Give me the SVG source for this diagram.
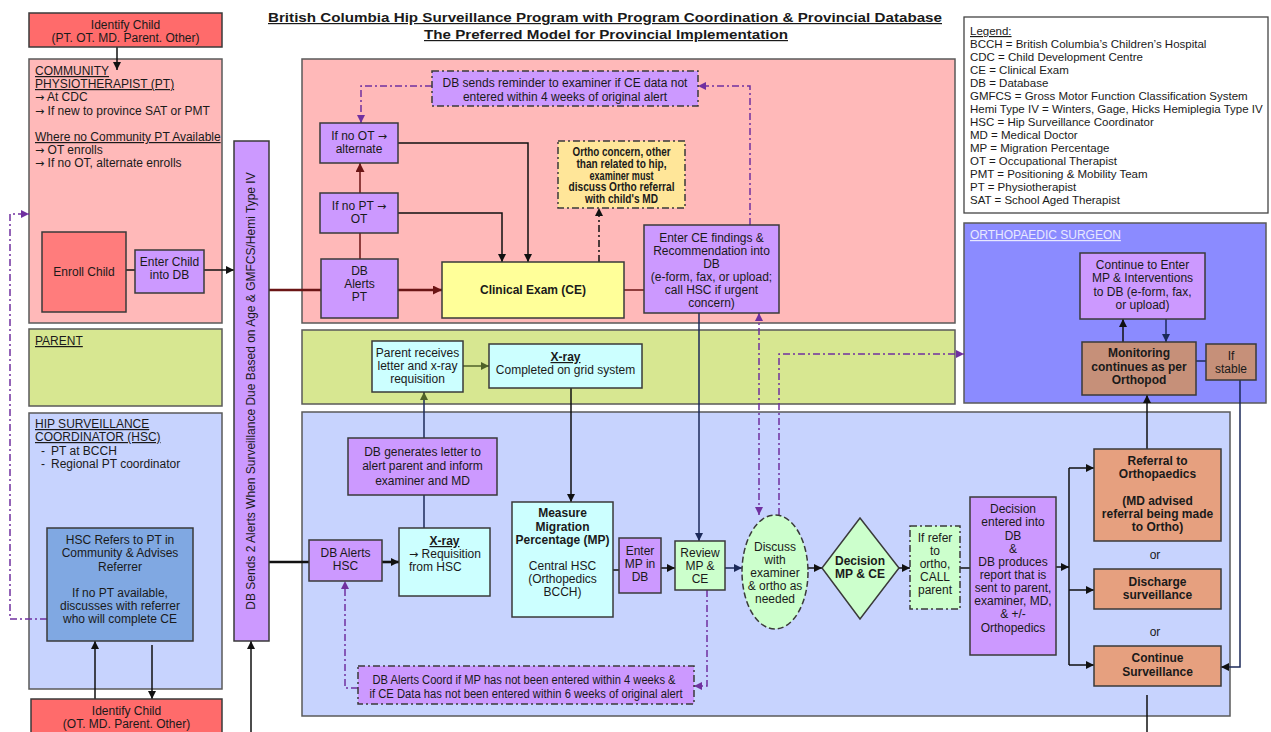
<svg xmlns="http://www.w3.org/2000/svg" width="1271" height="732" viewBox="0 0 1271 732">
<style>
.t{font-family:"Liberation Sans",Arial,sans-serif;font-size:12px;fill:#1a1a1a;text-anchor:middle}
.s{font-size:11.5px}
.b{font-weight:bold}
.l{text-anchor:start}
.u{text-decoration:underline}
.ar{font-family:"DejaVu Sans",sans-serif;font-size:11px}
.box{stroke:#3a3a3a;stroke-width:1.5}
.pane{stroke:#5a5a5a;stroke-width:1.5}
.dd{stroke-dasharray:7,3,2,3}
.ln{fill:none;stroke:#111;stroke-width:1.5}
.red{stroke:#6b1515}
.navy{stroke:#1c2a5a}
.pur{stroke:#7030a0}
.olv{stroke:#4f6228}
.thick{stroke-width:2.6}
</style>
<defs>
<marker id="ak" viewBox="0 0 10 10" refX="10" refY="5" markerWidth="9" markerHeight="8" markerUnits="userSpaceOnUse" orient="auto-start-reverse"><path d="M0,0L10,5L0,10z" fill="#111"/></marker>
<marker id="ar" viewBox="0 0 10 10" refX="10" refY="5" markerWidth="10" markerHeight="9" markerUnits="userSpaceOnUse" orient="auto"><path d="M0,0L10,5L0,10z" fill="#6b1515"/></marker>
<marker id="an" viewBox="0 0 10 10" refX="10" refY="5" markerWidth="9" markerHeight="8" markerUnits="userSpaceOnUse" orient="auto"><path d="M0,0L10,5L0,10z" fill="#1c2a5a"/></marker>
<marker id="ap" viewBox="0 0 10 10" refX="10" refY="5" markerWidth="9" markerHeight="8" markerUnits="userSpaceOnUse" orient="auto-start-reverse"><path d="M0,0L10,5L0,10z" fill="#7030a0"/></marker>
<marker id="ao" viewBox="0 0 10 10" refX="10" refY="5" markerWidth="9" markerHeight="8" markerUnits="userSpaceOnUse" orient="auto"><path d="M0,0L10,5L0,10z" fill="#4f6228"/></marker>
</defs>
<rect width="1271" height="732" fill="#fff"/>

<g id="title">
<text class="t b u" x="605" y="22" font-size="14" textLength="674" lengthAdjust="spacingAndGlyphs">British Columbia Hip Surveillance Program with Program Coordination &amp; Provincial Database</text>
<text class="t b u" x="606" y="39" font-size="14" textLength="364" lengthAdjust="spacingAndGlyphs">The Preferred Model for Provincial Implementation</text>
</g>

<g id="panes">
<rect id="pane-community-pt" class="pane" x="29" y="59" width="193" height="264" fill="#ffb9b9"/>
<text class="t l u" x="35" y="75">COMMUNITY</text>
<text class="t l u" x="35" y="88">PHYSIOTHERAPIST (PT)</text>
<text class="t l" x="35" y="101"><tspan class="ar">→</tspan> At CDC</text>
<text class="t l" x="35" y="115"><tspan class="ar">→</tspan> If new to province SAT or PMT</text>
<text class="t l u" x="35" y="141">Where no Community PT Available</text>
<text class="t l" x="35" y="154"><tspan class="ar">→</tspan> OT enrolls</text>
<text class="t l" x="35" y="167"><tspan class="ar">→</tspan> If no OT, alternate enrolls</text>

<rect id="pane-parent" class="pane" x="29" y="329" width="193" height="77" fill="#d7e791"/>
<text class="t l u" x="35" y="345">PARENT</text>

<rect id="pane-hsc" class="pane" x="29" y="413" width="193" height="276" fill="#c7d3fe"/>
<text class="t l u" x="35" y="428">HIP SURVEILLANCE</text>
<text class="t l u" x="35" y="441">COORDINATOR (HSC)</text>
<text class="t l" x="41" y="455">-</text><text class="t l" x="51" y="455">PT at BCCH</text>
<text class="t l" x="41" y="468">-</text><text class="t l" x="51" y="468">Regional PT coordinator</text>

<rect id="pane-ce" class="pane" x="302" y="59" width="653" height="264" fill="#ffb9b9"/>
<rect id="pane-parent-main" class="pane" x="302" y="330" width="653" height="74" fill="#d7e791"/>
<rect id="pane-hsc-main" class="pane" x="302" y="412" width="928" height="304" fill="#c7d3fe"/>
<rect id="pane-ortho" class="pane" x="964" y="223" width="302" height="180" fill="#8b8bff"/>
<text class="t l u" x="970" y="239" style="fill:#e8e8ff">ORTHOPAEDIC SURGEON</text>
</g>

<g id="legend">
<rect x="964" y="17" width="304" height="196" fill="#fff" stroke="#444" stroke-width="1.3"/>
<text class="t s l u" x="970" y="35">Legend:</text>
<text class="t s l" x="970" y="48">BCCH = British Columbia’s Children’s Hospital</text>
<text class="t s l" x="970" y="61">CDC = Child Development Centre</text>
<text class="t s l" x="970" y="74">CE = Clinical Exam</text>
<text class="t s l" x="970" y="87">DB = Database</text>
<text class="t s l" x="970" y="100">GMFCS = Gross Motor Function Classification System</text>
<text class="t s l" x="970" y="113">Hemi Type IV = Winters, Gage, Hicks Hemiplegia Type IV</text>
<text class="t s l" x="970" y="126">HSC = Hip Surveillance Coordinator</text>
<text class="t s l" x="970" y="139">MD = Medical Doctor</text>
<text class="t s l" x="970" y="152">MP = Migration Percentage</text>
<text class="t s l" x="970" y="165">OT = Occupational Therapist</text>
<text class="t s l" x="970" y="178">PMT = Positioning &amp; Mobility Team</text>
<text class="t s l" x="970" y="191">PT = Physiotherapist</text>
<text class="t s l" x="970" y="204">SAT = School Aged Therapist</text>
</g>

<g id="connectors">
<path class="ln" d="M117,47V70" marker-end="url(#ak)"/>
<path class="ln" d="M126,270H135"/>
<path class="ln" d="M204,270H234" marker-end="url(#ak)"/>
<path class="ln red thick" d="M269,290H321"/>
<path class="ln red thick" d="M398,290H442" marker-end="url(#ar)"/>
<path class="ln red" d="M360,259V233"/>
<path class="ln red" d="M360,193V163" marker-end="url(#ar)"/>
<path class="ln" d="M398,143H528V262" marker-end="url(#ak)"/>
<path class="ln" d="M398,213H502V262" marker-end="url(#ak)"/>
<path class="ln dd" d="M599,262V208" marker-end="url(#ak)"/>
<path class="ln red" d="M624,290H644"/>
<path class="ln pur dd" d="M750,225V86H698" marker-end="url(#ap)"/>
<path class="ln pur dd" d="M432,86H361V123" marker-end="url(#ap)"/>
<path class="ln navy" d="M699,313V541" marker-end="url(#an)"/>
<path class="ln pur dd" d="M759,313V515" marker-start="url(#ap)" marker-end="url(#ap)"/>
<path class="ln pur dd" d="M779,515V354H964" marker-end="url(#ap)"/>
<path class="ln olv" d="M463,366H489" marker-end="url(#ao)"/>
<path class="ln" d="M571,388V502" marker-end="url(#ak)"/>
<path class="ln navy" d="M424,438V392" marker-end="url(#ao)"/>
<path class="ln navy" d="M424,528V495"/>
<path class="ln thick" d="M269,562H309"/>
<path class="ln thick" d="M382,562H399" marker-end="url(#ak)"/>
<path class="ln" d="M613,570H619"/>
<path class="ln" d="M661,568H675" marker-end="url(#ak)"/>
<path class="ln navy" d="M725,568H742" marker-end="url(#an)"/>
<path class="ln" d="M808,568H822" marker-end="url(#ak)"/>
<path class="ln" d="M899,568H910" marker-end="url(#ak)"/>
<path class="ln" d="M960,568H970"/>
<path class="ln" d="M1056,567H1069" marker-end="url(#ak)"/>
<path class="ln" d="M1069,468V665"/>
<path class="ln" d="M1069,468H1094" marker-end="url(#ak)"/>
<path class="ln" d="M1069,590H1094" marker-end="url(#ak)"/>
<path class="ln" d="M1069,665H1094" marker-end="url(#ak)"/>
<path class="ln" d="M1147,449V395" marker-end="url(#ak)"/>
<path class="ln" d="M1123,342V319" marker-end="url(#ak)"/>
<path class="ln navy" d="M1166,319V342" marker-end="url(#an)"/>
<path class="ln navy" d="M1196,361H1206"/>
<path class="ln navy" d="M1240,380V667H1221" marker-end="url(#ak)"/>
<path class="ln" d="M1147,695V732"/>
<path class="ln" d="M251,732V641" marker-end="url(#ak)"/>
<path class="ln pur dd" d="M47,619H10V214H29" marker-end="url(#ap)"/>
<path class="ln" d="M95,699V641" marker-end="url(#ak)"/>
<path class="ln" d="M152,645V699" marker-end="url(#ak)"/>
<path class="ln pur dd" d="M707,590V686H694" marker-end="url(#ap)"/>
<path class="ln pur dd" d="M358,688H345V581" marker-end="url(#ap)"/>
</g>

<g id="identify-child-top">
<rect class="box" x="29" y="13" width="193" height="34" fill="#ff6b6b"/>
<text class="t" x="125.5" y="29">Identify Child</text>
<text class="t" x="125.5" y="42">(PT. OT. MD. Parent. Other)</text>
</g>
<g id="enroll-child">
<rect class="box" x="42" y="232" width="84" height="80" fill="#ff7c7c"/>
<text class="t" x="84" y="276">Enroll Child</text>
</g>
<g id="enter-child-db">
<rect class="box" x="135" y="250" width="69" height="43" fill="#cc99ff"/>
<text class="t" x="169.5" y="266">Enter Child</text>
<text class="t" x="169.5" y="279">into DB</text>
</g>
<g id="db-sends-alerts">
<rect class="box" x="234" y="141" width="35" height="500" fill="#cc99ff"/>
<text class="t" transform="translate(255,391) rotate(-90)">DB Sends 2 Alerts When Surveillance Due Based on Age &amp; GMFCS/Hemi Type IV</text>
</g>
<g id="hsc-refers">
<rect class="box" x="47" y="528" width="146" height="113" fill="#80a8e2"/>
<text class="t" x="120" y="544">HSC Refers to PT in</text>
<text class="t" x="120" y="557">Community &amp; Advises</text>
<text class="t" x="120" y="571">Referrer</text>
<text class="t" x="120" y="597">If no PT available,</text>
<text class="t" x="120" y="610">discusses with referrer</text>
<text class="t" x="120" y="623">who will complete CE</text>
</g>
<g id="identify-child-bottom">
<rect class="box" x="31" y="699" width="191" height="40" fill="#ff6b6b"/>
<text class="t" x="126.5" y="715">Identify Child</text>
<text class="t" x="126.5" y="728">(OT. MD. Parent. Other)</text>
</g>

<g id="db-reminder">
<rect class="box dd" x="432" y="71" width="266" height="35" fill="#cc99ff"/>
<text class="t" x="565" y="87">DB sends reminder to examiner if CE data not</text>
<text class="t" x="565" y="101">entered within 4 weeks of original alert</text>
</g>
<g id="if-no-ot">
<rect class="box" x="320" y="123" width="78" height="40" fill="#cc99ff"/>
<text class="t" x="359" y="140">If no OT <tspan class="ar">→</tspan></text>
<text class="t" x="359" y="153">alternate</text>
</g>
<g id="if-no-pt">
<rect class="box" x="320" y="193" width="78" height="40" fill="#cc99ff"/>
<text class="t" x="359" y="210">If no PT <tspan class="ar">→</tspan></text>
<text class="t" x="359" y="223">OT</text>
</g>
<g id="db-alerts-pt">
<rect class="box" x="321" y="259" width="77" height="59" fill="#cc99ff"/>
<text class="t" x="359.5" y="275">DB</text>
<text class="t" x="359.5" y="288">Alerts</text>
<text class="t" x="359.5" y="301">PT</text>
</g>
<g id="clinical-exam">
<rect class="box" x="442" y="262" width="182" height="56" fill="#ffff99"/>
<text class="t b" x="533" y="294">Clinical Exam (CE)</text>
</g>
<g id="ortho-concern">
<rect class="box dd" x="558" y="141" width="127" height="67" fill="#ffe699"/>
<text class="t b" font-size="9.5" x="621.5" y="156" textLength="98" lengthAdjust="spacingAndGlyphs">Ortho concern, other</text>
<text class="t b" font-size="9.5" x="621.5" y="167.8" textLength="90" lengthAdjust="spacingAndGlyphs">than related to hip,</text>
<text class="t b" font-size="9.5" x="621.5" y="179.6" textLength="64" lengthAdjust="spacingAndGlyphs">examiner must</text>
<text class="t b" font-size="9.5" x="621.5" y="191.4" textLength="106" lengthAdjust="spacingAndGlyphs">discuss Ortho referral</text>
<text class="t b" font-size="9.5" x="621.5" y="203.2" textLength="73" lengthAdjust="spacingAndGlyphs">with child's MD</text>
</g>
<g id="enter-ce-findings">
<rect class="box" x="644" y="225" width="135" height="88" fill="#cc99ff"/>
<text class="t" x="711.5" y="242">Enter CE findings &amp;</text>
<text class="t" x="711.5" y="255">Recommendation into</text>
<text class="t" x="711.5" y="268">DB</text>
<text class="t" x="711.5" y="281">(e-form, fax, or upload;</text>
<text class="t" x="711.5" y="294">call HSC if urgent</text>
<text class="t" x="711.5" y="307">concern)</text>
</g>

<g id="parent-receives">
<rect class="box" x="372" y="341" width="91" height="51" fill="#ccffff"/>
<text class="t" x="417.5" y="357">Parent receives</text>
<text class="t" x="417.5" y="370">letter and x-ray</text>
<text class="t" x="417.5" y="383">requisition</text>
</g>
<g id="xray-completed">
<rect class="box" x="489" y="344" width="153" height="44" fill="#ccffff"/>
<text class="t b u" x="565.5" y="361">X-ray</text>
<text class="t" x="565.5" y="374">Completed on grid system</text>
</g>

<g id="db-generates-letter">
<rect class="box" x="348" y="438" width="149" height="57" fill="#cc99ff"/>
<text class="t" font-size="13" x="422.5" y="456">DB generates letter to</text>
<text class="t" font-size="13" x="422.5" y="470">alert parent and inform</text>
<text class="t" font-size="13" x="422.5" y="485">examiner and MD</text>
</g>
<g id="db-alerts-hsc">
<rect class="box" x="309" y="540" width="73" height="41" fill="#cc99ff"/>
<text class="t" x="345.5" y="557">DB Alerts</text>
<text class="t" x="345.5" y="570">HSC</text>
</g>
<g id="xray-requisition">
<rect class="box" x="399" y="528" width="91" height="68" fill="#ccffff"/>
<text class="t b u" x="444.5" y="545">X-ray</text>
<text class="t l" x="409" y="558"><tspan class="ar">→</tspan> Requisition</text>
<text class="t l" x="409" y="571">from HSC</text>
</g>
<g id="measure-mp">
<rect class="box" x="512" y="502" width="101" height="115" fill="#ccffff"/>
<text class="t b" x="562.5" y="517">Measure</text>
<text class="t b" x="562.5" y="531">Migration</text>
<text class="t b" x="562.5" y="544">Percentage (MP)</text>
<text class="t" x="562.5" y="570">Central HSC</text>
<text class="t" x="562.5" y="583">(Orthopedics</text>
<text class="t" x="562.5" y="596">BCCH)</text>
</g>
<g id="enter-mp">
<rect class="box" x="619" y="538" width="42" height="55" fill="#cc99ff"/>
<text class="t" x="640" y="555">Enter</text>
<text class="t" x="640" y="568">MP in</text>
<text class="t" x="640" y="581">DB</text>
</g>
<g id="review-mp-ce">
<rect class="box" x="675" y="541" width="50" height="49" fill="#ccffcc"/>
<text class="t" x="700" y="557">Review</text>
<text class="t" x="700" y="570">MP &amp;</text>
<text class="t" x="700" y="583">CE</text>
</g>
<g id="discuss">
<ellipse cx="775" cy="572" rx="33" ry="57" fill="#ccffcc" stroke="#3a3a3a" stroke-width="1.5" stroke-dasharray="6,3"/>
<text class="t" x="775" y="551">Discuss</text>
<text class="t" x="775" y="564">with</text>
<text class="t" x="775" y="577">examiner</text>
<text class="t" x="775" y="590">&amp; ortho as</text>
<text class="t" x="775" y="603">needed</text>
</g>
<g id="decision-diamond">
<polygon class="box" points="860,518 899,568 860,619 822,568" fill="#ccffcc"/>
<text class="t b" x="860" y="565">Decision</text>
<text class="t b" x="860" y="578">MP &amp; CE</text>
</g>
<g id="if-refer">
<rect class="box dd" x="910" y="526" width="50" height="83" fill="#ccffcc"/>
<text class="t" x="935" y="542">If refer</text>
<text class="t" x="935" y="555">to</text>
<text class="t" x="935" y="568">ortho,</text>
<text class="t" x="935" y="581">CALL</text>
<text class="t" x="935" y="594">parent</text>
</g>
<g id="decision-entered">
<rect class="box" x="970" y="497" width="86" height="158" fill="#cc99ff"/>
<text class="t" x="1013" y="513">Decision</text>
<text class="t" x="1013" y="526">entered into</text>
<text class="t" x="1013" y="540">DB</text>
<text class="t" x="1013" y="553">&amp;</text>
<text class="t" x="1013" y="566">DB produces</text>
<text class="t" x="1013" y="579">report that is</text>
<text class="t" x="1013" y="592">sent to parent,</text>
<text class="t" x="1013" y="605">examiner, MD,</text>
<text class="t" x="1013" y="618">&amp; +/-</text>
<text class="t" x="1013" y="632">Orthopedics</text>
</g>
<g id="referral-ortho">
<rect class="box" x="1094" y="449" width="127" height="92" fill="#e6a07f"/>
<text class="t b" x="1157.5" y="465">Referral to</text>
<text class="t b" x="1157.5" y="478">Orthopaedics</text>
<text class="t b" x="1157.5" y="505">(MD advised</text>
<text class="t b" x="1157.5" y="518">referral being made</text>
<text class="t b" x="1157.5" y="531">to Ortho)</text>
</g>
<text class="t" x="1155" y="559">or</text>
<g id="discharge">
<rect class="box" x="1094" y="569" width="127" height="40" fill="#e6a07f"/>
<text class="t b" x="1157.5" y="586">Discharge</text>
<text class="t b" x="1157.5" y="599">surveillance</text>
</g>
<text class="t" x="1155" y="636">or</text>
<g id="continue-surveillance">
<rect class="box" x="1094" y="646" width="127" height="40" fill="#e6a07f"/>
<text class="t b" x="1157.5" y="662">Continue</text>
<text class="t b" x="1157.5" y="676">Surveillance</text>
</g>
<g id="db-alerts-coord">
<rect class="box dd" x="358" y="666" width="336" height="38" fill="#cc99ff"/>
<text class="t" font-size="11.3" x="524" y="684" textLength="303" lengthAdjust="spacingAndGlyphs">DB Alerts Coord if MP has not been entered within 4 weeks &amp;</text>
<text class="t" font-size="11.3" x="526" y="698" textLength="313" lengthAdjust="spacingAndGlyphs">if CE Data has not been entered within 6 weeks of original alert</text>
</g>

<g id="continue-enter-mp">
<rect class="box" x="1080" y="253" width="125" height="66" fill="#cc99ff"/>
<text class="t" x="1142.5" y="269">Continue to Enter</text>
<text class="t" x="1142.5" y="282">MP &amp; Interventions</text>
<text class="t" x="1142.5" y="296">to DB (e-form, fax,</text>
<text class="t" x="1142.5" y="309">or upload)</text>
</g>
<g id="monitoring">
<rect class="box" x="1082" y="342" width="114" height="53" fill="#c69079"/>
<text class="t b" x="1139" y="357">Monitoring</text>
<text class="t b" x="1139" y="371">continues as per</text>
<text class="t b" x="1139" y="384">Orthopod</text>
</g>
<g id="if-stable">
<rect class="box" x="1206" y="344" width="50" height="36" fill="#c69079"/>
<text class="t" x="1231" y="360">If</text>
<text class="t" x="1231" y="373">stable</text>
</g>
</svg>
